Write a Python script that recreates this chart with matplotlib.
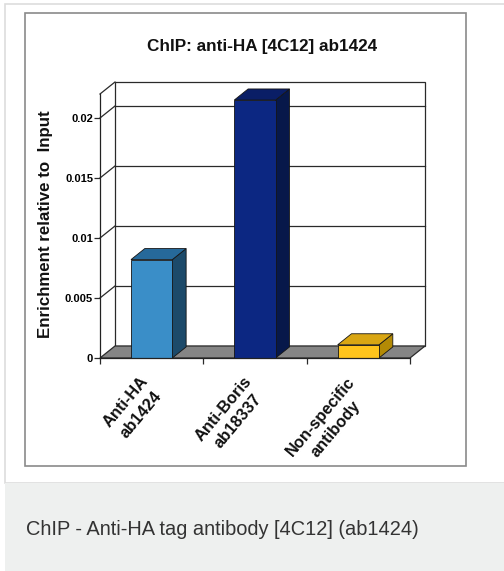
import matplotlib
matplotlib.use('Agg')
import matplotlib.pyplot as plt
from matplotlib.patches import Rectangle, Polygon
import numpy as np

# ---- data ----
categories = ['Anti-HA\nab1424', 'Anti-Boris\nab18337', 'Non-specific\nantibody']
values = [0.0082, 0.0215, 0.0011]
yticks = [0, 0.005, 0.01, 0.015, 0.02]
ytick_labels = ['0', '0.005', '0.01', '0.015', '0.02']
front_colors = ['#3a8ec8', '#0c2782', '#ffc41c']
side_colors = ['#1c4a6a', '#07184a', '#b38a05']
top_colors = ['#26699a', '#0a1e66', '#d9a613']
title = 'ChIP: anti-HA [4C12] ab1424'
ylabel = 'Enrichment relative to  Input'
caption = 'ChIP - Anti-HA tag antibody [4C12] (ab1424)'

plt.rcParams['font.family'] = ['Liberation Sans', 'DejaVu Sans']

W, H = 504, 571
fig = plt.figure(figsize=(W / 100, H / 100), dpi=100)

def rect(x0, y0, x1, y1):
    return [x0 / W, 1 - y1 / H, (x1 - x0) / W, (y1 - y0) / H]

# ---- page decoration (pixel coordinates) ----
bg = fig.add_axes([0, 0, 1, 1])
bg.set_xlim(0, W)
bg.set_ylim(H, 0)
bg.axis('off')
bg.add_patch(Rectangle((5, 4), W, 479, fc='white', ec='#dddddd', lw=1.2))
bg.add_patch(Rectangle((5, 483), W, H, fc='#eef0ef', ec='none'))
bg.add_patch(Rectangle((25, 13), 441, 453, fc='white', ec='#8a8a8a', lw=1.2))
bg.text(262.5, 50.5, title, ha='center', va='baseline', fontsize=12.3,
        fontweight='bold', color='#111111')
bg.text(46, 224, ylabel, ha='center', va='center', rotation=90,
        fontsize=12.2, fontweight='bold', color='#111111')
bg.text(26, 535, caption, ha='left', va='baseline', fontsize=14.4,
        color='#333333')

# ---- chart ----
ax = fig.add_axes(rect(100, 94, 410, 358))
ax.set_xlim(-0.5, 2.5)
ax.set_ylim(0, 0.022)
ax.patch.set_alpha(0)
for s in ['top', 'right']:
    ax.spines[s].set_visible(False)
for s in ['left', 'bottom']:
    ax.spines[s].set_color('#222222')
    ax.spines[s].set_linewidth(0.9)
    ax.spines[s].set_zorder(5)

# depth offset (15 px right, 12 px up) in data units
p0 = ax.transData.transform((0, 0))
inv = ax.transData.inverted()
ddx, ddy = inv.transform(p0 + np.array([15.0, 12.0])) - inv.transform(p0)

x0, x1 = ax.get_xlim()
ytop = ax.get_ylim()[1]
lc = '#2a2a2a'
# back wall
ax.add_patch(Rectangle((x0 + ddx, ddy), x1 - x0, ytop, fc='white', ec=lc,
                       lw=0.9, zorder=1, clip_on=False))
for yv in yticks[1:]:
    ax.plot([x0 + ddx, x1 + ddx], [yv + ddy, yv + ddy], color=lc, lw=0.9,
            zorder=1, clip_on=False)
    ax.plot([x0, x0 + ddx], [yv, yv + ddy], color=lc, lw=0.9, zorder=1,
            clip_on=False)
ax.plot([x0, x0 + ddx], [ytop, ytop + ddy], color=lc, lw=0.9, zorder=1,
        clip_on=False)
# floor
ax.add_patch(Polygon([(x0, 0), (x1, 0), (x1 + ddx, ddy), (x0 + ddx, ddy)],
                     closed=True, fc='#858585', ec=lc, lw=0.9, zorder=2,
                     clip_on=False))

# bars
bw = 0.40
bd = 0.92
xs = np.arange(len(values))
ax.bar(xs, values, width=bw, color=front_colors, edgecolor='#151515',
       linewidth=0.6, zorder=4)
for xi, v, sc, tc in zip(xs, values, side_colors, top_colors):
    r = xi + bw / 2
    l = xi - bw / 2
    ax.add_patch(Polygon([(r, 0), (r + bd * ddx, bd * ddy),
                          (r + bd * ddx, v + bd * ddy), (r, v)],
                         closed=True, fc=sc, ec='#151515', lw=0.6, zorder=3,
                         clip_on=False))
    ax.add_patch(Polygon([(l, v), (r, v), (r + bd * ddx, v + bd * ddy),
                          (l + bd * ddx, v + bd * ddy)],
                         closed=True, fc=tc, ec='#151515', lw=0.6, zorder=3,
                         clip_on=False))

# y ticks
ax.set_yticks(yticks, ytick_labels)
ax.tick_params(axis='y', direction='out', length=4, width=0.9, color=lc,
               labelsize=8, pad=1)
for t in ax.get_yticklabels():
    t.set_fontweight('bold')

# x ticks at category boundaries
ax.set_xticks(np.arange(-0.5, len(values), 1.0))
ax.set_xticklabels([])
ax.tick_params(axis='x', direction='out', length=4, width=0.9, color=lc)

# x category labels
for xi, lab in zip(xs, categories):
    ax.annotate(lab, xy=(xi, 0), xytext=(-12, -16), textcoords='offset pixels',
                rotation=50, ha='right', va='top', rotation_mode='anchor',
                multialignment='center', fontsize=11.8, fontweight='bold',
                color='#111111', linespacing=1.35, annotation_clip=False)

fig.savefig('out.png', dpi=100)
